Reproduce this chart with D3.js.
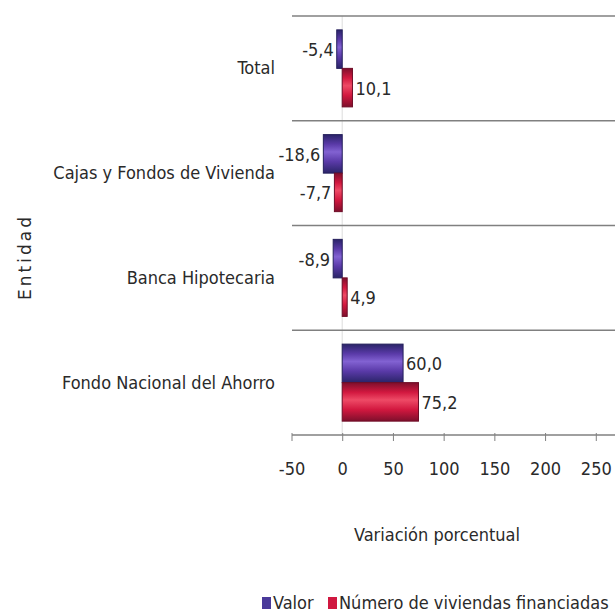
<!DOCTYPE html>
<html><head><meta charset="utf-8">
<script src="https://cdn.jsdelivr.net/npm/d3@7"></script>
<style>
body{margin:0;background:#fff;}
text{font-family:"DejaVu Sans Condensed","Liberation Sans Narrow","Roboto Condensed",sans-serif;fill:#2a2a2a;}
</style></head>
<body><svg id="c" width="615" height="615"></svg>
<script>
const categories = ["Total","Cajas y Fondos de Vivienda","Banca Hipotecaria","Fondo Nacional del Ahorro"];
const seriesNames = ["Valor","Número de viviendas financiadas"];
const valor = [-5.4,-18.6,-8.9,60.0];
const numero = [10.1,-7.7,4.9,75.2];
const xTicks = [-50,0,50,100,150,200,250];
const fmt = v => d3.format(".1f")(v).replace("−","-").replace(".", ",");

const svg = d3.select("#c");
const defs = svg.append("defs");
function grad(id, edge, mid, light){
  const g = defs.append("linearGradient").attr("id",id).attr("x1",0).attr("y1",0).attr("x2",0).attr("y2",1);
  g.append("stop").attr("offset","0%").attr("stop-color",edge);
  g.append("stop").attr("offset","25%").attr("stop-color",mid);
  g.append("stop").attr("offset","45%").attr("stop-color",light);
  g.append("stop").attr("offset","70%").attr("stop-color",mid);
  g.append("stop").attr("offset","100%").attr("stop-color",edge);
}
grad("gBlue","#2a2468","#5a3aa8","#8262d2");
grad("gRed","#7e0f2c","#d2183f","#ee4a66");
const fills = ["url(#gBlue)","url(#gRed)"];
const strokes = ["#241f5c","#6e0c26"];
const swatch = ["#4a3a9a","#d01840"];

const x = d3.scaleLinear().domain([-50,300]).range([291.5,646.5]);
const y = d3.scaleBand().domain(categories).range([16,435]);
const ys = d3.scaleBand().domain([0,1]).range([0,y.bandwidth()]).paddingInner(0).paddingOuter(0.36);

// faint zero line
svg.append("line").attr("x1",x(0)).attr("x2",x(0)).attr("y1",16).attr("y2",435)
  .attr("stroke","#e2e2e2").attr("stroke-width",1.2);

// separators
const seps = [y(categories[0])].concat(categories.slice(0,-1).map(c=>y(c)+y.bandwidth()));
svg.selectAll("line.sep").data(seps).enter().append("line")
  .attr("x1",292).attr("x2",615).attr("y1",d=>d).attr("y2",d=>d)
  .attr("stroke","#808080").attr("stroke-width",1.6);

// x axis
const xAxis = d3.axisBottom(x).tickValues(xTicks).tickSize(6).tickSizeOuter(0).tickFormat(d=>String(d));
const gx = svg.append("g").attr("transform","translate(0,435)").call(xAxis);
gx.select(".domain").attr("stroke","#808080").attr("stroke-width",1.6).attr("d","M292,0H615");
gx.selectAll(".tick line").attr("stroke","#808080").attr("y1",-2);
gx.selectAll(".tick text").attr("y",27).attr("font-size",18).style("fill","#2a2a2a")
  .attr("font-family",'"DejaVu Sans Condensed",sans-serif');

// category labels
svg.selectAll("text.cat").data(categories).enter().append("text")
  .attr("x",275).attr("y",d=>y(d)+y.bandwidth()/2+1).attr("text-anchor","end")
  .attr("dominant-baseline","middle").attr("font-size",18).text(d=>d);

// bars
const series = [valor, numero];
series.forEach((vals,si)=>{
  const g = svg.append("g");
  g.selectAll("rect").data(vals).enter().append("rect")
    .attr("x",d=>x(Math.min(0,d))).attr("width",d=>Math.abs(x(d)-x(0)))
    .attr("y",(d,i)=>y(categories[i])+ys(si)).attr("height",ys.bandwidth())
    .attr("fill",fills[si]).attr("stroke",strokes[si]).attr("stroke-width",1);
  g.selectAll("text").data(vals).enter().append("text")
    .attr("x",d=> d<0 ? x(d)-3 : x(d)+3)
    .attr("text-anchor",d=>d<0?"end":"start")
    .attr("y",(d,i)=>y(categories[i])+ys(si)+ys.bandwidth()/2+2)
    .attr("dominant-baseline","middle").attr("font-size",18).text(d=>fmt(d));
});

// axis titles
svg.append("text").attr("x",437).attr("y",536).attr("text-anchor","middle")
  .attr("dominant-baseline","middle").attr("font-size",18).text("Variación porcentual");
svg.append("text").attr("transform","translate(26,257) rotate(-90)").attr("text-anchor","middle")
  .attr("dominant-baseline","middle").attr("font-size",17).attr("letter-spacing",3)
  .style("font-family",'"DejaVu Sans",sans-serif').text("Entidad");

// legend
const leg = svg.append("g");
const legX = [262, 328];
seriesNames.forEach((n,i)=>{
  leg.append("rect").attr("x",legX[i]).attr("y",597).attr("width",9).attr("height",12).attr("fill",swatch[i]);
  leg.append("text").attr("x",legX[i]+11).attr("y",604).attr("dominant-baseline","middle")
    .attr("font-size",18).text(n);
});
</script></body></html>
